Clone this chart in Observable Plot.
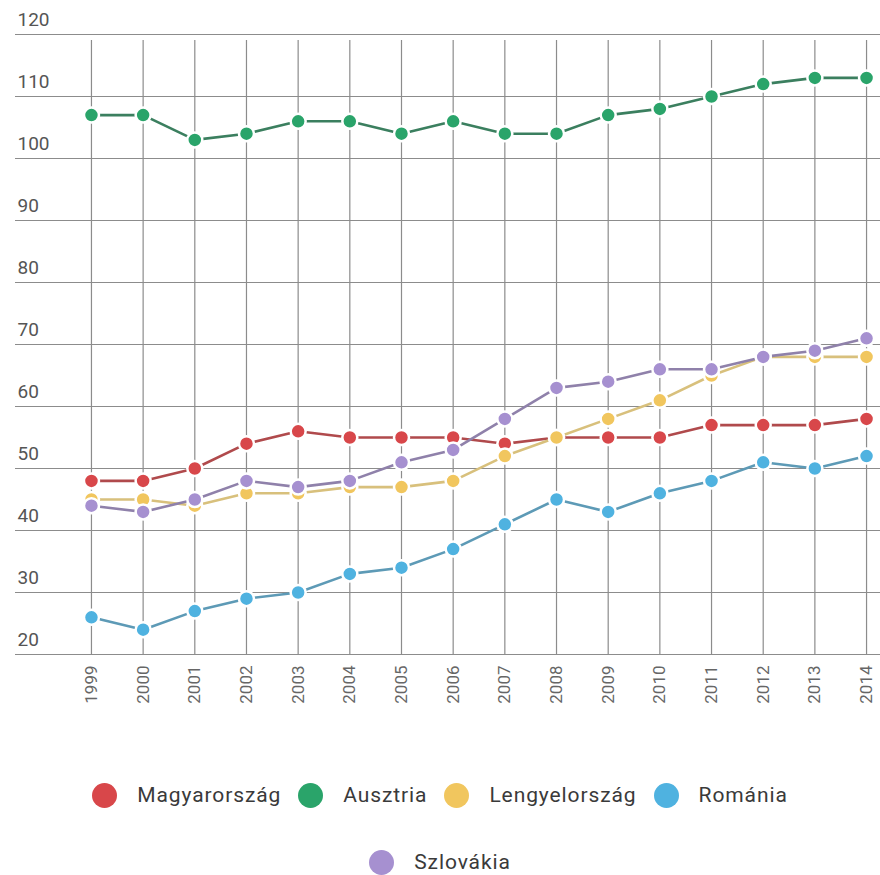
<!DOCTYPE html>
<html>
<head>
<meta charset="utf-8">
<script src="https://cdn.jsdelivr.net/npm/d3@7"></script>
<script src="https://cdn.jsdelivr.net/npm/@observablehq/plot@0.6"></script>
<style>
  html, body { margin: 0; padding: 0; background: #fff; }
  body { width: 880px; overflow: hidden; font-family: Roboto, "Noto Sans", sans-serif; }
  #legend { display: flex; flex-wrap: wrap; justify-content: center; width: 760px; margin: 60px auto 0; row-gap: 37px; column-gap: 17px; }
  .item { display: flex; align-items: center; font-size: 21px; letter-spacing: 0.9px; color: #3a3a3a; height: 30px; }
  .sw { width: 25px; height: 25px; border-radius: 50%; margin-right: 20px; }
</style>
</head>
<body>
<div id="chart"></div>
<div id="legend"></div>
<script>
const years = [1999,2000,2001,2002,2003,2004,2005,2006,2007,2008,2009,2010,2011,2012,2013,2014];
const seriesNames = ["Magyarország","Ausztria","Lengyelország","Románia","Szlovákia"];
const magyarorszag = [48,48,50,54,56,55,55,55,54,55,55,55,57,57,57,58];
const ausztria     = [107,107,103,104,106,106,104,106,104,104,107,108,110,112,113,113];
const lengyelorszag= [45,45,44,46,46,47,47,48,52,55,58,61,65,68,68,68];
const romania      = [26,24,27,29,30,33,34,37,41,45,43,46,48,51,50,52];
const szlovakia    = [44,43,45,48,47,48,51,53,58,63,64,66,66,68,69,71];
const yTicks = [20,30,40,50,60,70,80,90,100,110,120];
const dotColors  = ["#d8474a","#2aa46a","#f1c65e","#4fb2e0","#a690d0"];
const lineColors = ["#b04a4c","#3b7f5f","#d8c07c","#5d9ab6","#8f81aa"];

const values = [magyarorszag, ausztria, lengyelorszag, romania, szlovakia];
const data = [];
seriesNames.forEach((s, i) => years.forEach((y, j) => data.push({series: s, year: y, value: values[i][j]})));

const chart = Plot.plot({
  width: 880,
  height: 720,
  marginLeft: 15,
  marginRight: 0,
  marginTop: 34,
  marginBottom: 66,
  style: {fontFamily: "Roboto, sans-serif", background: "#fff"},
  x: {type: "linear", domain: [1997.53, 2014.27], axis: null, label: null},
  y: {domain: [20, 120], axis: null, label: null},
  color: {domain: seriesNames, range: dotColors},
  marks: [
    Plot.ruleY(yTicks, {stroke: "#8c8c8c", strokeWidth: 1.2}),
    Plot.ruleX(years, {y1: 20, y2: 120, stroke: "#8c8c8c", strokeWidth: 1.2, insetBottom: -6}),
    Plot.text(yTicks, {y: d => d, frameAnchor: "left", textAnchor: "start", dx: 2, dy: -15, text: d => String(d), fontSize: 19, fill: "#555"}),
    Plot.axisX(years, {tickFormat: d => String(d), tickRotate: -90, tickSize: 0, tickPadding: 11, fontSize: 17, color: "#666", stroke: "none", label: null}),
    ...seriesNames.map((s, i) =>
      Plot.line(data.filter(d => d.series === s), {x: "year", y: "value", stroke: lineColors[i], strokeWidth: 2.6})
    ),
    ...seriesNames.map((s, i) =>
      Plot.dot(data.filter(d => d.series === s), {x: "year", y: "value", r: 7.5, fill: dotColors[i], stroke: "#fff", strokeWidth: 2.5})
    )
  ]
});
document.getElementById("chart").appendChild(chart);

const legend = document.getElementById("legend");
seriesNames.forEach((s, i) => {
  const it = document.createElement("div");
  it.className = "item";
  const sw = document.createElement("span");
  sw.className = "sw";
  sw.style.background = dotColors[i];
  const t = document.createElement("span");
  t.textContent = s;
  it.appendChild(sw); it.appendChild(t);
  legend.appendChild(it);
});
</script>
</body>
</html>
